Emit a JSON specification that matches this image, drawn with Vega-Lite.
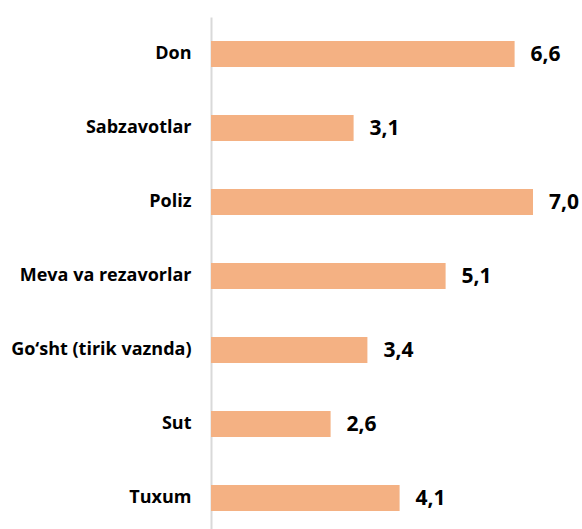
{
  "$schema": "https://vega.github.io/schema/vega-lite/v6.json",
  "autosize": {"type": "none"},
  "padding": {"left": 211, "top": 17, "right": 0, "bottom": 0},
  "width": 371,
  "height": 518,
  "background": "white",
  "config": {
    "view": {"stroke": null},
    "locale": {"number": {"decimal": ",", "thousands": " ", "grouping": [3], "currency": ["", ""]}}
  },
  "data": {
    "values": [
      {"category": "Don", "value": 6.6},
      {"category": "Sabzavotlar", "value": 3.1},
      {"category": "Poliz", "value": 7.0},
      {"category": "Meva va rezavorlar", "value": 5.1},
      {"category": "Go‘sht (tirik vaznda)", "value": 3.4},
      {"category": "Sut", "value": 2.6},
      {"category": "Tuxum", "value": 4.1}
    ]
  },
  "encoding": {
    "y": {
      "field": "category",
      "type": "nominal",
      "sort": null,
      "scale": {"paddingInner": 0.65, "paddingOuter": 0.325},
      "axis": {
        "title": null,
        "ticks": false,
        "grid": false,
        "domainColor": "#d9d9d9",
        "domainWidth": 2,
        "labelPadding": 20,
        "labelFont": "Open Sans",
        "labelFontWeight": "bold",
        "labelFontSize": 18,
        "labelColor": "#000000",
        "labelLimit": 300
      }
    },
    "x": {
      "field": "value",
      "type": "quantitative",
      "scale": {"domain": [0, 8.065], "nice": false, "zero": true},
      "axis": null
    }
  },
  "layer": [
    {"mark": {"type": "bar", "color": "#F4B183"}},
    {
      "mark": {"type": "text", "align": "left", "baseline": "middle", "dx": 16, "dy": 1, "font": "Open Sans", "fontWeight": "bold", "fontSize": 21, "color": "#000000"},
      "encoding": {"text": {"field": "value", "type": "quantitative", "format": ".1f"}}
    }
  ]
}
